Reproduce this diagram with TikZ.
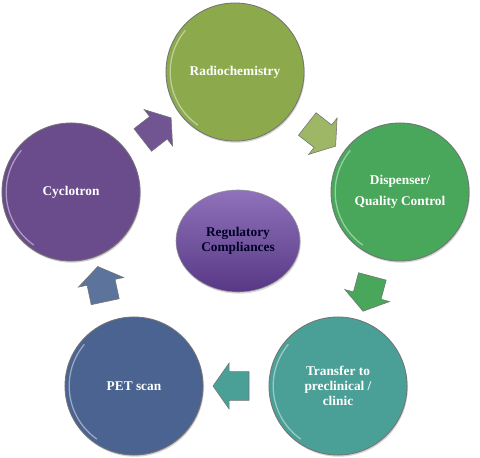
\documentclass[tikz,border=0pt]{standalone}
\usepackage{fontspec}
\setmainfont{Liberation Serif}
\usetikzlibrary{shapes.geometric,shapes.arrows,shadows,calc}
\definecolor{radiogreen}{RGB}{140,170,76}
\definecolor{dispgreen}{RGB}{72,167,90}
\definecolor{transteal}{RGB}{74,160,150}
\definecolor{petblue}{RGB}{74,99,145}
\definecolor{cycpurple}{RGB}{106,76,140}
\definecolor{regtop}{RGB}{143,114,186}
\definecolor{regbottom}{RGB}{88,56,134}
\begin{document}
\begin{tikzpicture}[x=0.025cm, y=0.025cm,
  every node/.style={font=\bfseries\fontsize{9.5}{10.5}\selectfont, align=center},
  stage/.style={circle, draw=black!55, line width=0.6pt, minimum size=3.45cm, text=white,
    drop shadow={opacity=0.35, shadow xshift=0.6pt, shadow yshift=-1.2pt},
    path picture={\draw[white, opacity=0.45, line width=0.9pt]
      ([shift={(140:1.62cm)}]path picture bounding box.center) arc (140:235:1.62cm);}},
  blockarrow/.style={single arrow, draw=black!55, line width=0.4pt, inner sep=0pt,
    minimum width=0.7cm, minimum height=0.9cm, single arrow head extend=0.22cm,
    text height=0.35cm, text depth=0.35cm, single arrow tip angle=110}]
\useasboundingbox (0,0) rectangle (480,-458);

% stages
\node (radio) [stage, fill=radiogreen] at (235,-72) {Radiochemistry};
\node (disp) [stage, fill=dispgreen] at (400,-192) {Dispenser/\\[4pt]Quality Control};
\node (trans) [stage, fill=transteal] at (338,-386) {Transfer to\\preclinical /\\clinic};
\node (pet) [stage, fill=petblue] at (134,-386) {PET scan};
\node (cyc) [stage, fill=cycpurple] at (71,-192) {Cyclotron};

% centre
\node (reg) [ellipse, draw=black!40, minimum width=3.1cm, minimum height=2.55cm,
  top color=regtop, bottom color=regbottom, text=black!85!blue,
  drop shadow={opacity=0.3, shadow xshift=0.6pt, shadow yshift=-1.2pt}]
  at (238,-241) {Regulatory\\Compliances};

% flow arrows
\node (a1) [blockarrow, fill=cycpurple!95!white, rotate=38] at ($(cyc)!0.5!(radio)$) {};
\node (a2) [blockarrow, fill=radiogreen!85!white, rotate=-38] at ($(radio)!0.5!(disp)$) {};
\node (a3) [blockarrow, fill=dispgreen, rotate=-105] at ($(disp)!0.5!(trans)$) {};
\node (a4) [blockarrow, fill=transteal, rotate=180] at ($(trans)!0.5!(pet)$) {};
\node (a5) [blockarrow, fill=petblue!90!white, rotate=102] at ($(pet)!0.5!(cyc)$) {};
\end{tikzpicture}
\end{document}
